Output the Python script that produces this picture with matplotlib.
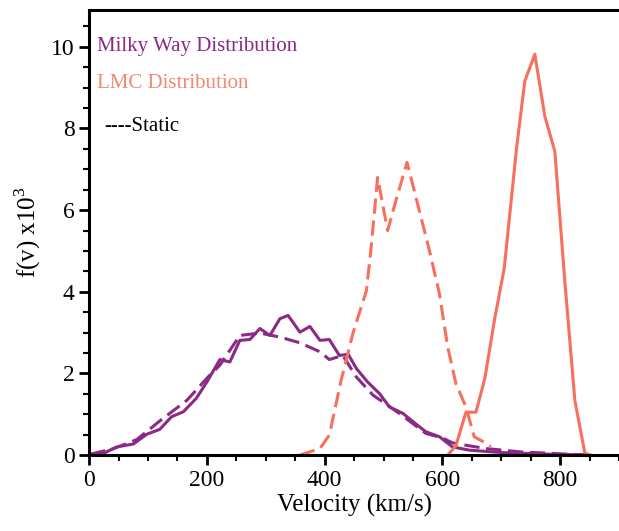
import numpy as np
import matplotlib
matplotlib.use("Agg")
import matplotlib.pyplot as plt
from matplotlib.ticker import MultipleLocator

plt.rcParams['font.family'] = ['Liberation Serif', 'DejaVu Serif']
plt.rcParams['mathtext.fontset'] = 'custom'
plt.rcParams['mathtext.rm'] = 'Liberation Serif'

# Milky Way, solid
mw_v = [2, 27, 47, 75, 98, 120, 140, 160, 182, 200, 222, 239, 256, 273, 290, 307,
        324, 338, 358, 375, 392, 408, 425, 440, 454, 473, 493, 510, 533, 550, 572,
        595, 617, 646, 702, 787, 850]
mw_f = [0.02, 0.06, 0.2, 0.27, 0.51, 0.63, 0.94, 1.06, 1.39, 1.79, 2.34, 2.28, 2.81,
        2.83, 3.1, 2.93, 3.34, 3.42, 3.01, 3.15, 2.81, 2.83, 2.44, 2.47, 2.12, 1.79,
        1.51, 1.18, 1.02, 0.82, 0.57, 0.45, 0.2, 0.12, 0.06, 0.02, 0.0]

# Milky Way, static (dashed)
mws_v = [2, 42, 81, 123, 166, 205, 222, 256, 290, 324, 358, 392, 408, 431, 454, 482,
         527, 572, 600, 617, 640, 674, 731, 800, 850]
mws_f = [0.02, 0.16, 0.38, 0.87, 1.34, 1.96, 2.2, 2.93, 2.99, 2.89, 2.75, 2.53, 2.34,
         2.44, 1.91, 1.47, 1.02, 0.53, 0.42, 0.3, 0.24, 0.16, 0.08, 0.03, 0.0]

# LMC, solid
lmc_v = [609, 623, 640, 657, 672, 689, 705, 726, 740, 757, 774, 791, 808, 825, 842, 851]
lmc_f = [0.0, 0.23, 1.05, 1.05, 1.87, 3.35, 4.57, 7.52, 9.16, 9.82, 8.3, 7.44, 4.25,
         1.34, 0.05, 0.0]

# LMC, static (dashed)
lmcs_v = [358, 392, 408, 428, 448, 471, 479, 490, 507, 521, 540, 555, 578, 595, 609,
          623, 640, 654, 674, 682]
lmcs_f = [0.0, 0.16, 0.49, 1.83, 2.98, 4.03, 5.09, 6.8, 5.5, 6.23, 7.17, 6.32, 5.01,
          3.95, 2.65, 1.75, 1.18, 0.45, 0.29, 0.2]

purple = '#8b2a85'
salmon = '#f6705d'

fig = plt.figure(figsize=(6.19, 5.31), dpi=100)
ax = fig.add_axes([0.144, 0.143, 0.856, 0.838])

dash = (0, (5, 2.2))
ax.plot(mws_v, mws_f, color=purple, lw=2.2, ls=dash)
ax.plot(mw_v, mw_f, color=purple, lw=2.2)
ax.plot(lmcs_v, lmcs_f, color=salmon, lw=2.2, ls=dash)
ax.plot(lmc_v, lmc_f, color=salmon, lw=2.2)

ax.set_xlim(0, 900)
ax.set_ylim(0, 10.9)
ax.xaxis.set_major_locator(MultipleLocator(200))
ax.xaxis.set_minor_locator(MultipleLocator(50))
ax.yaxis.set_major_locator(MultipleLocator(2))
ax.yaxis.set_minor_locator(MultipleLocator(0.5))
ax.tick_params(which='major', length=7, width=2, labelsize=17)
ax.tick_params(which='minor', length=4, width=1.5)
for s in ['left', 'bottom', 'top']:
    ax.spines[s].set_linewidth(2.2)
ax.spines['right'].set_visible(False)

ax.set_xlabel('Velocity (km/s)', fontsize=18, labelpad=2)
ax.set_ylabel('f(v) x10$^3$', fontsize=18, labelpad=6)

ax.text(0.015, 0.919, 'Milky Way Distribution', transform=ax.transAxes, color=purple,
        fontsize=15, va='center')
ax.text(0.015, 0.836, 'LMC Distribution', transform=ax.transAxes, color='#f08a70',
        fontsize=15, va='center')
ax.text(0.028, 0.739, '----Static', transform=ax.transAxes, color='black',
        fontsize=15, va='center')

fig.savefig('out.png', dpi=100)
